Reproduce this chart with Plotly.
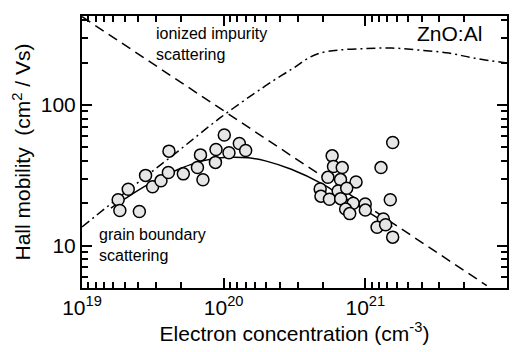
import plotly.graph_objects as go

# Measured Hall mobility data (ZnO:Al)
n_meas = [1.80e19, 1.85e19, 2.12e19, 2.54e19, 2.81e19, 3.15e19, 3.61e19, 4.07e19, 4.11e19,
          5.19e19, 6.53e19, 6.86e19, 7.14e19, 8.75e19, 8.83e19, 1.01e20, 1.09e20, 1.29e20, 1.43e20,
          5.83e20, 5.96e20, 6.87e20, 5.44e20, 6.68e20, 8.60e20, 4.80e20, 6.43e20, 7.39e20,
          4.86e20, 5.58e20, 6.70e20, 8.21e20, 7.26e20, 7.76e20, 9.98e20, 1.00e21,
          1.29e21, 1.56e21, 1.50e21, 1.34e21, 1.21e21, 1.39e21, 1.56e21]
mu_meas = [21.2, 17.8, 25.2, 17.5, 31.6, 26.2, 28.9, 33.1, 47.0,
           32.4, 36.0, 44.2, 29.4, 39.1, 48.3, 61.2, 45.8, 53.2, 47.5,
           43.5, 36.5, 35.9, 30.6, 29.5, 28.4, 25.3, 24.5, 25.6,
           22.5, 21.4, 21.6, 20.0, 18.2, 16.9, 19.8, 17.9,
           35.9, 54.2, 21.2, 15.5, 13.5, 14.1, 11.5]

# Ionized impurity scattering (dashed)
n_ii = [1.0e19, 7.2e21]
mu_ii = [425, 5.2]

# Grain boundary scattering (dash-dot)
n_gb = [1.0e19, 2.18e19, 4.61e19, 9.42e19, 1.87e20, 2.58e20, 3.19e20, 3.94e20, 4.78e20,
        6.52e20, 1.0e21, 1.54e21, 2.39e21, 3.89e21, 5.94e21, 1.0e22]
mu_gb = [13.6, 25.4, 45.7, 80.9, 132, 163, 186, 215, 234,
         246, 252, 254, 246, 234, 215, 199]

# Combined fit (solid)
n_fit = [1.6e19, 2e19, 3e19, 5e19, 7e19, 1e20, 1.5e20, 2e20, 3e20, 5e20, 7e20, 1e21, 1.55e21]
mu_fit = [18.5, 21.5, 27.6, 35.5, 39.9, 42.3, 42.1, 39.9, 34.9, 27.4, 22.1, 17.8, 13.6]

x_decades = [19, 20, 21, 22]
y_major = [10, 100]
y_minor = [6, 7, 8, 9, 20, 30, 40, 50, 60, 70, 80, 90, 200, 300, 400]

FONT = "Liberation Sans, Arial, sans-serif"
X_RANGE = [19, 22]
Y_RANGE = [0.69897, 2.633]

fig = go.Figure()
fig.add_trace(go.Scatter(x=n_ii, y=mu_ii, mode="lines",
                         line=dict(color="black", width=1.5, dash="10px,6px")))
fig.add_trace(go.Scatter(x=n_gb, y=mu_gb, mode="lines", line_shape="spline",
                         line=dict(color="black", width=1.5, dash="9px,4px,2px,4px")))
fig.add_trace(go.Scatter(x=n_fit, y=mu_fit, mode="lines", line_shape="spline",
                         line=dict(color="black", width=1.5)))
fig.add_trace(go.Scatter(x=n_meas, y=mu_meas, mode="markers",
                         marker=dict(size=12, color="#e6e6e6",
                                     line=dict(color="black", width=1.5))))

# mirrored minor ticks on x (as in original figure)
x_minor = [10.0 ** (d + 1) / k for d in x_decades[:-1] for k in range(2, 10)]

tick_common = dict(ticks="inside", tickwidth=1.5, tickcolor="black",
                   showgrid=False, zeroline=False, mirror="ticks")

fig.update_layout(
    width=524, height=352,
    margin=dict(l=82, r=17, t=16, b=64),
    paper_bgcolor="white", plot_bgcolor="white",
    showlegend=False,
    font=dict(family=FONT, color="black"),
    xaxis=dict(type="log", range=X_RANGE, tickmode="array",
               tickvals=[10.0 ** d for d in x_decades],
               ticktext=["10<sup>%d</sup>" % d for d in x_decades],
               tickfont=dict(size=21), ticklen=10,
               showline=True, linewidth=2, linecolor="black",
               title=dict(text="Electron concentration (cm<sup>-3</sup>)",
                          font=dict(size=21), standoff=6),
               **tick_common),
    yaxis=dict(type="log", range=Y_RANGE, tickmode="array",
               tickvals=y_major, ticktext=[str(v) for v in y_major],
               tickfont=dict(size=21), ticklen=10,
               showline=True, linewidth=2, linecolor="black",
               title=dict(text="Hall mobility  (cm<sup>2</sup> / Vs)",
                          font=dict(size=21), standoff=4),
               **tick_common),
    xaxis2=dict(type="log", range=X_RANGE, overlaying="x", anchor="y", side="bottom",
                tickmode="array", tickvals=x_minor, ticklen=6, showticklabels=False,
                showline=False, **tick_common),
    yaxis2=dict(type="log", range=Y_RANGE, overlaying="y", anchor="x", side="left",
                tickmode="array", tickvals=y_minor, ticklen=6, showticklabels=False,
                showline=False, **tick_common),
)
# invisible helper trace so the minor-tick axes are rendered
fig.add_trace(go.Scatter(x=n_ii, y=mu_ii, xaxis="x2", yaxis="y2", mode="lines",
                         line=dict(width=0), hoverinfo="skip", opacity=0))

fig.add_annotation(x=0.17, y=0.975, xref="paper", yref="paper", xanchor="left", yanchor="top",
                   text="ionized impurity<br>scattering", showarrow=False, align="left",
                   font=dict(size=16))
fig.add_annotation(x=0.945, y=0.985, xref="paper", yref="paper", xanchor="right", yanchor="top",
                   text="ZnO:Al", showarrow=False, font=dict(size=21))
fig.add_annotation(x=0.035, y=0.235, xref="paper", yref="paper", xanchor="left", yanchor="top",
                   text="grain boundary<br>scattering", showarrow=False, align="left",
                   font=dict(size=16))

fig.write_html("out.html")
